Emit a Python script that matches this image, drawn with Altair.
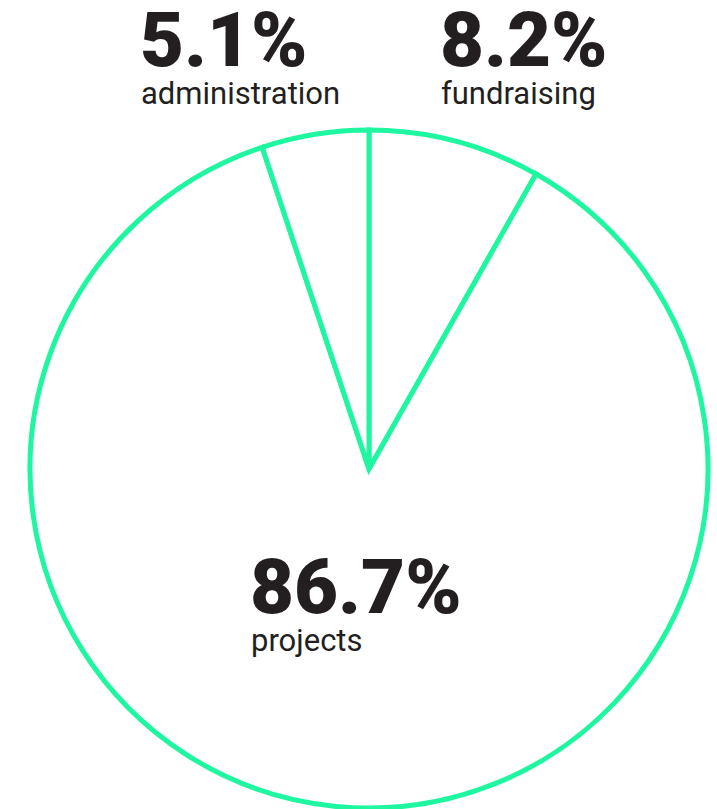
import altair as alt
import pandas as pd

categories = ["fundraising", "projects", "administration"]
shares = [8.2, 86.7, 5.1]
pct_labels = ["8.2%", "86.7%", "5.1%"]

df = pd.DataFrame({
    "category": categories,
    "share": shares,
    "pct": pct_labels,
    "order": list(range(len(categories))),
})

GREEN = "#1EF7A0"
DARK = "#231F20"

pie = alt.Chart(df).mark_arc(
    outerRadius=339, fill="white", stroke=GREEN, strokeWidth=5, strokeJoin="miter"
).encode(
    theta=alt.Theta("share:Q", stack=True),
    order=alt.Order("order:O"),
    x=alt.value(369),
    y=alt.value(469),
)

# annotation anchor positions (pixels) for each category
anchors = {
    "administration": (140, 66),
    "fundraising": (440, 66),
    "projects": (250, 613),
}

layers = [pie]
for cat, (ax, ay) in anchors.items():
    base = alt.Chart(df).transform_filter(alt.datum.category == cat)
    layers.append(base.mark_text(
        align="left", baseline="alphabetic", font="Roboto", fontWeight=900,
        fontSize=76, color=DARK, x=ax, y=ay,
    ).encode(text="pct:N"))
    layers.append(base.mark_text(
        align="left", baseline="alphabetic", font="Roboto", fontWeight=400,
        fontSize=31, color=DARK, x=ax + 1, y=ay + 38,
    ).encode(text="category:N"))

chart = alt.layer(*layers).properties(
    width=717, height=809, padding=0, autosize=alt.AutoSizeParams(type="none")
).configure_view(stroke=None)

chart.save("out.html", embed_options={"renderer": "svg", "actions": False})
